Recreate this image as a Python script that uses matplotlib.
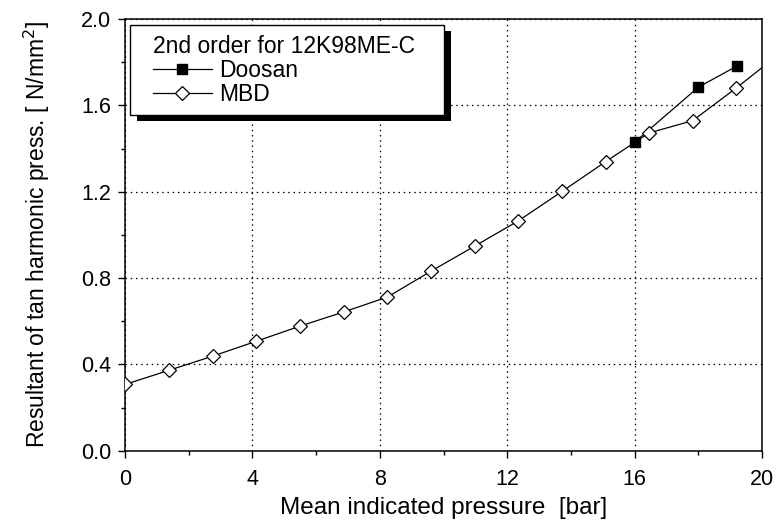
import matplotlib
matplotlib.use('Agg')
import matplotlib.pyplot as plt
from matplotlib.patches import Rectangle

plt.rcParams['font.family'] = ['Liberation Sans', 'DejaVu Sans']

# MBD curve (x is a uniform-ish step of about 1.37 bar)
mbd_x = [0.0, 1.37, 2.75, 4.12, 5.49, 6.87, 8.24, 9.61, 10.98, 12.35, 13.72, 15.09, 16.45, 17.82, 19.19, 20.56]
mbd_y = [0.307, 0.372, 0.438, 0.507, 0.577, 0.643, 0.712, 0.832, 0.948, 1.065, 1.201, 1.339, 1.472, 1.529, 1.680, 1.84]

# Doosan measurements
doosan_x = [16.0, 18.0, 19.2]
doosan_y = [1.429, 1.684, 1.781]

fig = plt.figure(figsize=(7.77, 5.31), dpi=100)
ax = fig.add_axes([0.1609, 0.1512, 0.8198, 0.813])

ax.plot(doosan_x, doosan_y, color='k', lw=0.9, marker='s', ms=7.2,
        mfc='k', mec='k', label='Doosan', zorder=3)
ax.plot(mbd_x, mbd_y, color='k', lw=0.9, marker='D', ms=7, mfc='white',
        mec='k', mew=0.9, label='MBD', zorder=3)

ax.set_xlim(0, 20)
ax.set_ylim(0, 2.0)
ax.set_xticks([0, 4, 8, 12, 16, 20])
ax.set_xticks([2, 6, 10, 14, 18], minor=True)
ax.set_yticks([0.0, 0.4, 0.8, 1.2, 1.6, 2.0])
ax.set_yticks([0.2, 0.6, 1.0, 1.4, 1.8], minor=True)
ax.set_yticklabels(['0.0', '0.4', '0.8', '1.2', '1.6', '2.0'])
ax.tick_params(which='major', direction='out', length=5, width=1, labelsize=15.5)
ax.tick_params(axis='x', which='major', pad=8)
ax.tick_params(axis='y', which='major', pad=5)
ax.tick_params(which='minor', direction='out', length=3, width=1)
ax.grid(True, which='major', linestyle=(0, (1.2, 3)), color='k', lw=0.9)
for s in ax.spines.values():
    s.set_linewidth(1.1)

ax.set_xlabel('Mean indicated pressure  [bar]', fontsize=17.5, labelpad=5)
ax.set_ylabel('Resultant of tan harmonic press. [ N/mm$^2$]', fontsize=16.5, labelpad=21)

leg = ax.legend(title='2nd order for 12K98ME-C', loc='upper left',
                bbox_to_anchor=(0.029, 0.985), borderaxespad=0,
                frameon=False, fontsize=16.5, title_fontsize=16.5,
                handlelength=2.6, handletextpad=0.3, labelspacing=0.05,
                borderpad=0.4)
leg._legend_box.align = 'left'
leg.set_zorder(5)

# white legend box with a solid black drop shadow, wider than the text
fig.canvas.draw()
bb = leg.get_window_extent().transformed(ax.transAxes.inverted())
px = 1 / ax.bbox.width
py = 1 / ax.bbox.height
x0 = 4.5 * px
w = 314 * px
y0 = bb.y0
h = bb.height
ax.add_patch(Rectangle((x0 + 7 * px, y0 - 6 * py), w, h, transform=ax.transAxes,
                       facecolor='k', edgecolor='none', clip_on=False, zorder=4.8))
ax.add_patch(Rectangle((x0, y0), w, h, transform=ax.transAxes,
                       facecolor='white', edgecolor='k', lw=1, clip_on=False, zorder=4.9))

fig.savefig('out.png', dpi=100)
